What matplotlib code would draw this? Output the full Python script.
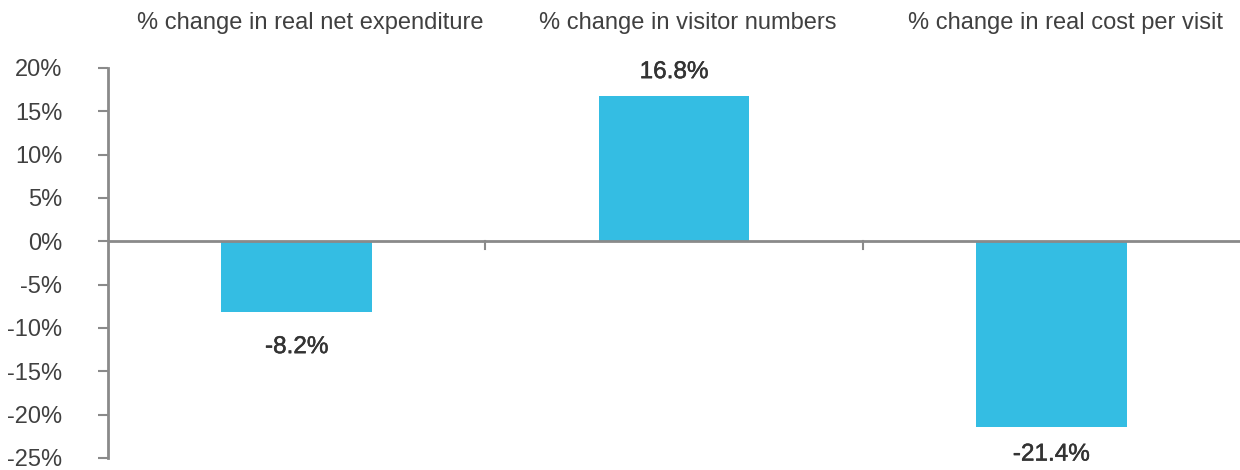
import numpy as np
import matplotlib.pyplot as plt
import matplotlib.patheffects as pe

plt.rcParams['font.family'] = ['Liberation Sans', 'DejaVu Sans']

# headline measures and their % change
measures = ["% change in real net expenditure",
            "% change in visitor numbers",
            "% change in real cost per visit"]
change = [-8.2, 16.8, -21.4]
yticks = [-25, -20, -15, -10, -5, 0, 5, 10, 15, 20]

bar_col = "#34BDE3"
axis_col = "#8A8A8A"
text_col = "#404040"

fig = plt.figure(figsize=(12.4, 4.7), dpi=100)
ax = fig.add_axes([108/1240, 12/470, 1 - 108/1240, 1 - 80/470])

x = np.arange(len(measures))
ax.bar(x, change, width=0.40, color=bar_col, zorder=2)

ax.set_xlim(-0.5, len(measures) - 0.5)
ax.set_ylim(-25, 20)
ax.set_yticks(yticks)
ax.set_yticklabels([f"{v}%" for v in yticks], fontsize=17, color=text_col)
ax.tick_params(axis='y', direction='out', length=7, width=1.5, color=axis_col, pad=26)
for lab in ax.get_yticklabels():
    lab.set_horizontalalignment('right')

# zero line with category dividers hanging below it
ax.axhline(0, color=axis_col, lw=2, zorder=3)
for b in x[:-1] + 0.5:
    ax.plot([b, b], [0, -0.9], color=axis_col, lw=1.5, zorder=3, clip_on=False)
ax.set_xticks([])

for side in ['top', 'right', 'bottom']:
    ax.spines[side].set_visible(False)
ax.spines['left'].set_color(axis_col)
ax.spines['left'].set_linewidth(2)

# category names across the top, nudged slightly right
for xi, name in zip(x, measures):
    ax.annotate(name, (xi, 1.115), xycoords=ax.get_xaxis_transform(),
                xytext=(10, 0), textcoords='offset points',
                ha='center', va='center', fontsize=17, color=text_col)

# value labels (slightly heavier than the rest)
offsets = [-25, 17, -20]
for xi, v, off in zip(x, change, offsets):
    ax.annotate(f"{v}%", (xi, v), xytext=(0, off), textcoords='offset points',
                ha='center', va='center', fontsize=17.5, color="#333333",
                path_effects=[pe.withStroke(linewidth=0.35, foreground="#333333")])

fig.savefig("out.png", dpi=100)
